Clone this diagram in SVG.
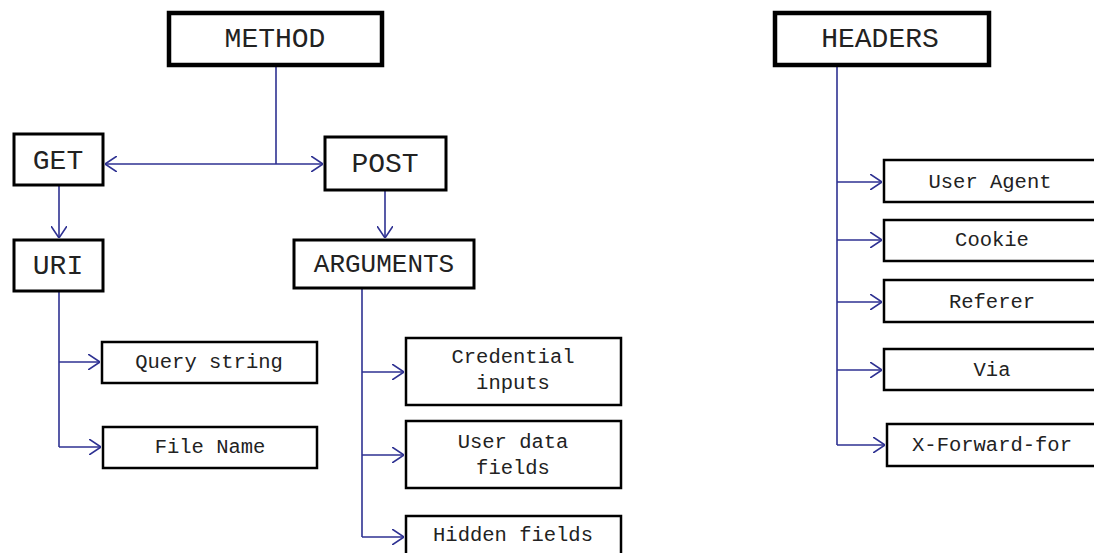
<svg xmlns="http://www.w3.org/2000/svg" width="1094" height="553" viewBox="0 0 1094 553">
<style>
  .box{fill:#fff;stroke:#000;stroke-width:3}
  .thick{stroke-width:4.5}
  .thin{stroke-width:2.5}
  .big{font-family:"Liberation Mono","Courier New",monospace;font-size:28px;fill:#222;text-anchor:middle}
  .small{font-family:"Liberation Mono","Courier New",monospace;font-size:20.5px;fill:#222;text-anchor:middle}
  .conn{stroke:#2E3192;stroke-width:1.6;fill:none}
</style>
<defs>
  <marker id="arr" viewBox="0 0 12 16" refX="12" refY="8" markerWidth="12" markerHeight="16" markerUnits="userSpaceOnUse" orient="auto-start-reverse">
    <path d="M0,0 L12,8 L0,16" fill="none" stroke="#2E3192" stroke-width="1.6"/>
  </marker>
</defs>
<g id="connectors">
  <path class="conn" d="M276,65 V164"/>
  <path class="conn" d="M105,164 H323" marker-start="url(#arr)" marker-end="url(#arr)"/>
  <path class="conn" d="M59,185 V238" marker-end="url(#arr)"/>
  <path class="conn" d="M385,191 V238" marker-end="url(#arr)"/>
  <path class="conn" d="M59,291 V447"/>
  <path class="conn" d="M59,362 H100" marker-end="url(#arr)"/>
  <path class="conn" d="M59,447 H101" marker-end="url(#arr)"/>
  <path class="conn" d="M362,288 V537"/>
  <path class="conn" d="M362,372 H404" marker-end="url(#arr)"/>
  <path class="conn" d="M362,455 H404" marker-end="url(#arr)"/>
  <path class="conn" d="M362,537 H404" marker-end="url(#arr)"/>
  <path class="conn" d="M837,65 V445"/>
  <path class="conn" d="M837,182 H882" marker-end="url(#arr)"/>
  <path class="conn" d="M837,240 H882" marker-end="url(#arr)"/>
  <path class="conn" d="M837,302 H882" marker-end="url(#arr)"/>
  <path class="conn" d="M837,370 H882" marker-end="url(#arr)"/>
  <path class="conn" d="M837,445 H885" marker-end="url(#arr)"/>
</g>
<g id="method"><rect class="box thick" x="169" y="13" width="213" height="52"/><text class="big" x="275" y="47">METHOD</text></g>
<g id="get"><rect class="box" x="14" y="134" width="89" height="51"/><text class="big" x="58" y="169">GET</text></g>
<g id="post"><rect class="box" x="325" y="137" width="121" height="53"/><text class="big" x="385" y="172">POST</text></g>
<g id="uri"><rect class="box" x="14" y="240" width="89" height="51"/><text class="big" x="58" y="274">URI</text></g>
<g id="arguments"><rect class="box" x="294" y="240" width="180" height="48"/><text class="big" x="384" y="272" style="font-size:26px">ARGUMENTS</text></g>
<g id="query-string"><rect class="box thin" x="102" y="342" width="215" height="41"/><text class="small" x="209" y="368">Query string</text></g>
<g id="file-name"><rect class="box thin" x="103" y="427" width="214" height="41"/><text class="small" x="210" y="453">File Name</text></g>
<g id="credential"><rect class="box thin" x="406" y="338" width="215" height="67"/><text class="small" x="513" y="363">Credential</text><text class="small" x="513" y="389">inputs</text></g>
<g id="user-data"><rect class="box thin" x="406" y="421" width="215" height="67"/><text class="small" x="513" y="448">User data</text><text class="small" x="513" y="474">fields</text></g>
<g id="hidden"><rect class="box thin" x="406" y="516" width="215" height="45"/><text class="small" x="513" y="541">Hidden fields</text></g>
<g id="headers"><rect class="box thick" x="775" y="13" width="214" height="52"/><text class="big" x="880" y="47">HEADERS</text></g>
<g id="user-agent"><rect class="box thin" x="884" y="160" width="215" height="42"/><text class="small" x="990" y="188">User Agent</text></g>
<g id="cookie"><rect class="box thin" x="884" y="220" width="215" height="41"/><text class="small" x="992" y="246">Cookie</text></g>
<g id="referer"><rect class="box thin" x="884" y="280" width="215" height="42"/><text class="small" x="992" y="308">Referer</text></g>
<g id="via"><rect class="box thin" x="884" y="349" width="215" height="41"/><text class="small" x="992" y="376">Via</text></g>
<g id="x-forward-for"><rect class="box thin" x="887" y="424" width="215" height="42"/><text class="small" x="992" y="451">X-Forward-for</text></g>
</svg>
